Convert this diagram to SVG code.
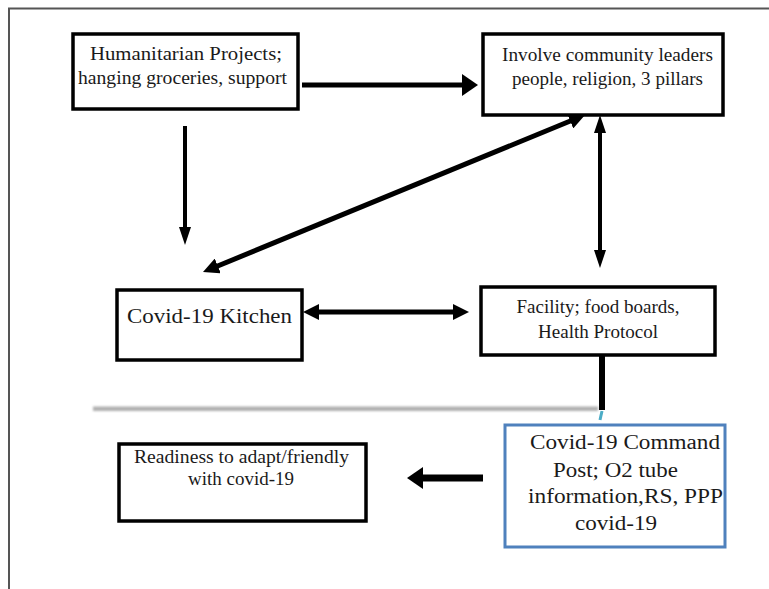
<svg xmlns="http://www.w3.org/2000/svg" width="769" height="589" viewBox="0 0 769 589">
<style>
.box{fill:#fff;stroke:#000;stroke-width:3.5}
.blue{fill:#fff;stroke:#4f81bd;stroke-width:3}
.t{font-family:"Liberation Serif","Times New Roman",serif;fill:#1a1a1a;text-anchor:middle}
.c{stroke:#000;fill:none;stroke-linecap:butt}
</style>
<defs>
<marker id="big" markerUnits="userSpaceOnUse" viewBox="0 0 16 22" markerWidth="16" markerHeight="22" refX="8" refY="11" orient="auto-start-reverse"><path d="M0,0 L16,11 L0,22 z" fill="#000"/></marker>
<marker id="med" markerUnits="userSpaceOnUse" viewBox="0 0 16 16" markerWidth="16" markerHeight="16" refX="8" refY="8" orient="auto-start-reverse"><path d="M0,0 L16,8 L0,16 z" fill="#000"/></marker>
<marker id="thin" markerUnits="userSpaceOnUse" viewBox="0 0 18 12" markerWidth="18" markerHeight="12" refX="9" refY="6" orient="auto-start-reverse"><path d="M0,0 L18,6 L0,12 z" fill="#000"/></marker>
<filter id="blur" filterUnits="userSpaceOnUse" x="80" y="395" width="530" height="30"><feGaussianBlur stdDeviation="1.3"/></filter>
</defs>
<rect width="769" height="589" fill="#fff"/>
<g id="frame"><path d="M9,589 V8.5 H769" fill="none" stroke="#555" stroke-width="2"/></g>
<g id="decor"><rect x="93" y="406.5" width="505" height="4.5" fill="#b0b0b0" filter="url(#blur)"/></g>
<g id="connectors">
<line class="c" x1="302" y1="85" x2="470" y2="85" stroke-width="5" marker-end="url(#big)"/>
<line class="c" x1="185" y1="126" x2="185" y2="236" stroke-width="4" marker-end="url(#thin)"/>
<line class="c" x1="210.4" y1="269" x2="577.6" y2="118" stroke-width="5" marker-start="url(#med)" marker-end="url(#med)"/>
<line class="c" x1="600" y1="124" x2="600" y2="259" stroke-width="4" marker-start="url(#thin)" marker-end="url(#thin)"/>
<line class="c" x1="311" y1="312" x2="461" y2="312" stroke-width="5" marker-start="url(#med)" marker-end="url(#med)"/>
<line class="c" x1="602" y1="353" x2="602" y2="410" stroke-width="6"/>
<line x1="602" y1="411" x2="600" y2="420" stroke="#4bacc6" stroke-width="3"/>
<line class="c" x1="483" y1="478" x2="415" y2="478" stroke-width="7" marker-end="url(#big)"/>
</g>
<g id="humanitarian">
<rect class="box" x="73" y="34" width="225" height="75"/>
<text class="t" font-size="19" x="186" y="60" textLength="192" lengthAdjust="spacingAndGlyphs">Humanitarian Projects;</text>
<text class="t" font-size="19" x="182.5" y="84" textLength="209" lengthAdjust="spacingAndGlyphs">hanging groceries, support</text>
</g>
<g id="community">
<rect class="box" x="483" y="34" width="240" height="81"/>
<text class="t" font-size="19" x="607.5" y="61" textLength="211" lengthAdjust="spacingAndGlyphs">Involve community leaders</text>
<text class="t" font-size="19" x="607.5" y="85" textLength="191" lengthAdjust="spacingAndGlyphs">people, religion, 3 pillars</text>
</g>
<g id="kitchen">
<rect class="box" x="117" y="290" width="185" height="70"/>
<text class="t" font-size="21" x="209.5" y="323" textLength="165" lengthAdjust="spacingAndGlyphs">Covid-19 Kitchen</text>
</g>
<g id="facility">
<rect class="box" x="481" y="287" width="234" height="68"/>
<text class="t" font-size="19" x="598" y="313" textLength="163" lengthAdjust="spacingAndGlyphs">Facility; food boards,</text>
<text class="t" font-size="19" x="598" y="338" textLength="120" lengthAdjust="spacingAndGlyphs">Health Protocol</text>
</g>
<g id="command">
<rect class="blue" x="505" y="425" width="220" height="122"/>
<text class="t" font-size="20" x="625" y="449" textLength="190" lengthAdjust="spacingAndGlyphs">Covid-19 Command</text>
<text class="t" font-size="20" x="615.5" y="477" textLength="125" lengthAdjust="spacingAndGlyphs">Post; O2 tube</text>
<text class="t" font-size="20" x="625.5" y="503" textLength="195" lengthAdjust="spacingAndGlyphs">information,RS, PPP</text>
<text class="t" font-size="20" x="616" y="530" textLength="82" lengthAdjust="spacingAndGlyphs">covid-19</text>
</g>
<g id="readiness">
<rect class="box" x="119" y="444" width="247" height="77" stroke-width="4"/>
<text class="t" font-size="18.5" x="241.5" y="463" textLength="215" lengthAdjust="spacingAndGlyphs">Readiness to adapt/friendly</text>
<text class="t" font-size="18.5" x="241" y="485" textLength="106" lengthAdjust="spacingAndGlyphs">with covid-19</text>
</g>
</svg>
